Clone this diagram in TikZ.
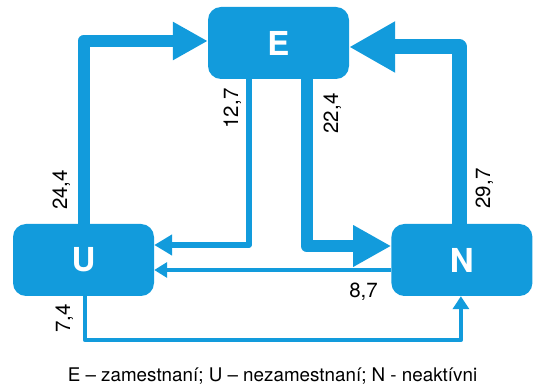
\documentclass[tikz,border=0pt]{standalone}
\usepackage{fontspec}
\setmainfont{TeX Gyre Heros}
\usetikzlibrary{positioning,arrows.meta}
\definecolor{flowblue}{RGB}{18,155,220}

\begin{document}
\begin{tikzpicture}[
    x=1pt, y=-1pt,
    statebox/.style={
        rectangle, rounded corners=13pt, fill=flowblue, text=white,
        minimum width=141pt, minimum height=72pt, inner sep=0pt,
        font=\fontsize{33}{33}\selectfont\bfseries
      },
    flow/.style={draw=flowblue, line join=round},
    flowlabel/.style={font=\fontsize{20.5}{20.5}\selectfont, inner sep=0pt},
  ]
  \useasboundingbox (0,0) rectangle (539,387);
  \node[statebox](U) at (83.5,260) {U};
  \node[statebox](N) [right=237pt of U] {N};
  \node[statebox](E) at (278.5,43) {E};
  \draw[flow, line width=12pt, -{Triangle[length=35pt,width=36pt]}]
    (U.north) |- ([yshift=2pt]E.west);
  \draw[flow, line width=5.5pt, -{Triangle[length=18pt,width=20pt]}]
    ([xshift=-29.5pt]E.south) |- ([yshift=15pt]U.east);
  \draw[flow, line width=12pt, -{Triangle[length=38pt,width=39pt]}]
    ([xshift=28pt]E.south) |- ([yshift=14pt]N.west);
  \draw[flow, line width=15pt, -{Triangle[length=46pt,width=48pt]}]
    ([xshift=-2.5pt]N.north) |- ([yshift=-4pt]E.east);
  \draw[flow, line width=4.5pt, -{Triangle[length=13pt,width=15pt]}]
    ([yshift=-10pt]N.west) -- ([yshift=-10pt]U.east);
  \draw[flow, line width=4pt, -{Triangle[length=13pt,width=16pt]}]
    ([xshift=1.5pt]U.south) -- ++(0,44) -| ([xshift=-1pt]N.south);
  \node[flowlabel, rotate=90, anchor=base](lUE) at (67,190) {24,4};
  \node[flowlabel, rotate=90, anchor=base](lEU) at (238,108.5) {12,7};
  \node[flowlabel, rotate=90, anchor=base](lEN) at (338,113.5) {22,4};
  \node[flowlabel, rotate=90, anchor=base](lNE) at (490,188.5) {29,7};
  \node[flowlabel, rotate=90, anchor=base](lUN) at (70,318.5) {7,4};
  \node[flowlabel, anchor=base](lNU) at (363.5,298) {8,7};
  \node[font=\fontsize{18.8}{18.8}\selectfont, anchor=base](legend) at (272.5,382)
    {E – zamestnaní; U – nezamestnaní; N - neaktívni};
\end{tikzpicture}
\end{document}
